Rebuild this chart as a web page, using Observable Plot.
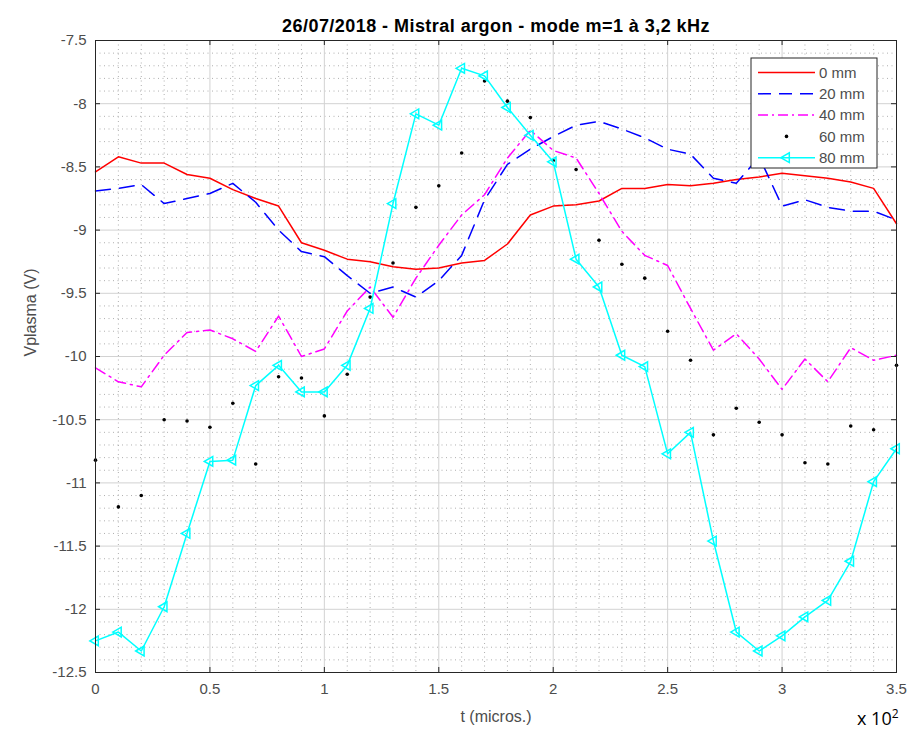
<!DOCTYPE html>
<html>
<head>
<meta charset="utf-8">
<script src="https://cdn.jsdelivr.net/npm/d3@7"></script>
<script src="https://cdn.jsdelivr.net/npm/@observablehq/plot@0.6"></script>
<style>
  body { margin: 0; background: #fff; }
  #chart { width: 917px; height: 733px; }
</style>
</head>
<body>
<div id="chart"></div>
<script>
// Time axis (units of 100 µs)
const t = [0, 0.1, 0.2, 0.3, 0.4, 0.5, 0.6, 0.7, 0.8, 0.9,
           1.0, 1.1, 1.2, 1.3, 1.4, 1.5, 1.6, 1.7, 1.8, 1.9,
           2.0, 2.1, 2.2, 2.3, 2.4, 2.5, 2.6, 2.7, 2.8, 2.9,
           3.0, 3.1, 3.2, 3.3, 3.4, 3.5];

// Plasma potential (V) at each radial position
const v0mm  = [-8.54, -8.42, -8.47, -8.47, -8.56, -8.59, -8.68, -8.75, -8.81, -9.10,
               -9.16, -9.23, -9.25, -9.29, -9.31, -9.30, -9.26, -9.24, -9.11, -8.88,
               -8.81, -8.80, -8.77, -8.67, -8.67, -8.64, -8.65, -8.63, -8.60, -8.58,
               -8.55, -8.57, -8.59, -8.62, -8.67, -8.95];
const v20mm = [-8.69, -8.67, -8.64, -8.79, -8.75, -8.71, -8.63, -8.78, -9.00, -9.17,
               -9.21, -9.36, -9.50, -9.45, -9.53, -9.40, -9.20, -8.76, -8.48, -8.36,
               -8.26, -8.17, -8.14, -8.20, -8.27, -8.36, -8.40, -8.59, -8.63, -8.42,
               -8.81, -8.76, -8.82, -8.85, -8.85, -8.92];
const v40mm = [-10.09, -10.20, -10.24, -9.99, -9.81, -9.79, -9.86, -9.96, -9.68, -10.00,
               -9.94, -9.64, -9.45, -9.69, -9.38, -9.12, -8.88, -8.72, -8.43, -8.21,
               -8.37, -8.43, -8.71, -9.01, -9.20, -9.28, -9.62, -9.95, -9.82, -10.02,
               -10.26, -10.02, -10.20, -9.93, -10.03, -9.99];
const v60mm = [-10.82, -11.19, -11.10, -10.50, -10.51, -10.56, -10.37, -10.85, -10.16, -10.17,
               -10.47, -10.14, -9.53, -9.26, -8.82, -8.65, -8.39, -7.82, -7.98, -8.11,
               -8.45, -8.52, -9.08, -9.27, -9.38, -9.80, -10.03, -10.62, -10.41, -10.52,
               -10.62, -10.84, -10.85, -10.55, -10.58, -10.07];
const v80mm = [-12.25, -12.18, -12.33, -11.98, -11.40, -10.83, -10.82, -10.23, -10.07, -10.28,
               -10.28, -10.07, -9.62, -8.79, -8.08, -8.17, -7.72, -7.78, -8.03, -8.25,
               -8.46, -9.23, -9.45, -9.99, -10.08, -10.77, -10.60, -11.46, -12.18, -12.33,
               -12.21, -12.06, -11.93, -11.62, -10.99, -10.73];

const seriesNames = ["0 mm", "20 mm", "40 mm", "60 mm", "80 mm"];

// Axis ticks
const xTicks = [0, 0.5, 1, 1.5, 2, 2.5, 3, 3.5];
const yTicks = [-7.5, -8, -8.5, -9, -9.5, -10, -10.5, -11, -11.5, -12, -12.5];
const xMinor = [0.1, 0.2, 0.3, 0.4, 0.6, 0.7, 0.8, 0.9, 1.1, 1.2, 1.3, 1.4, 1.6, 1.7, 1.8, 1.9,
                2.1, 2.2, 2.3, 2.4, 2.6, 2.7, 2.8, 2.9, 3.1, 3.2, 3.3, 3.4];
const yMinor = [-7.6, -7.7, -7.8, -7.9, -8.1, -8.2, -8.3, -8.4, -8.6, -8.7, -8.8, -8.9,
                -9.1, -9.2, -9.3, -9.4, -9.6, -9.7, -9.8, -9.9, -10.1, -10.2, -10.3, -10.4,
                -10.6, -10.7, -10.8, -10.9, -11.1, -11.2, -11.3, -11.4, -11.6, -11.7, -11.8, -11.9,
                -12.1, -12.2, -12.3, -12.4];

const titleText = "26/07/2018 - Mistral argon - mode m=1 à 3,2 kHz";
const xLabel = "t (micros.)";
const yLabel = "Vplasma (V)";

const toRows = (values) => t.map((x, i) => ({t: x, v: values[i]}));
const rows0 = toRows(v0mm), rows20 = toRows(v20mm), rows40 = toRows(v40mm),
      rows60 = toRows(v60mm), rows80 = toRows(v80mm);

const W = 917, H = 733;
const margin = {top: 40, right: 21, bottom: 61, left: 95};
const innerH = H - margin.top - margin.bottom;
const innerW = W - margin.left - margin.right;
const axisColor = "#262626";
const labelColor = "#4d4d4d";
const tickLen = 5;

const colors = {c0: "#ff0000", c20: "#0000ff", c40: "#ff00ff", c60: "#000000", c80: "#00ffff"};
const dash20 = "15,9";
const dash40 = "11,5,2,5";

const chart = Plot.plot({
  width: W,
  height: H,
  marginTop: margin.top,
  marginRight: margin.right,
  marginBottom: margin.bottom,
  marginLeft: margin.left,
  style: {fontFamily: "'Liberation Sans', Arial, sans-serif", fontSize: "15px", background: "#fff"},
  x: {domain: [0, 3.5]},
  y: {domain: [-12.5, -7.5]},
  marks: [
    // minor dotted grid
    Plot.ruleX(xMinor, {stroke: "#9a9a9a", strokeWidth: 0.8, strokeDasharray: "1,3.5"}),
    Plot.ruleY(yMinor, {stroke: "#9a9a9a", strokeWidth: 0.8, strokeDasharray: "1,3.5"}),
    // major grid
    Plot.ruleX(xTicks, {stroke: "#d2d2d2", strokeWidth: 1}),
    Plot.ruleY(yTicks, {stroke: "#d2d2d2", strokeWidth: 1}),
    // data
    Plot.line(rows0, {x: "t", y: "v", stroke: colors.c0, strokeWidth: 1.5}),
    Plot.line(rows20, {x: "t", y: "v", stroke: colors.c20, strokeWidth: 1.5, strokeDasharray: dash20}),
    Plot.line(rows40, {x: "t", y: "v", stroke: colors.c40, strokeWidth: 1.5, strokeDasharray: dash40}),
    Plot.dot(rows60, {x: "t", y: "v", r: 1.8, fill: colors.c60, stroke: "none"}),
    Plot.line(rows80, {x: "t", y: "v", stroke: colors.c80, strokeWidth: 1.5}),
    Plot.dot(rows80, {x: "t", y: "v", symbol: "triangle", rotate: -90, r: 3.6, stroke: colors.c80, strokeWidth: 1.5, fill: "none"}),
    // frame and inward ticks on all four sides
    Plot.frame({stroke: axisColor, strokeWidth: 1}),
    Plot.ruleX(xTicks, {stroke: axisColor, insetTop: innerH - tickLen}),
    Plot.ruleX(xTicks, {stroke: axisColor, insetBottom: innerH - tickLen}),
    Plot.ruleY(yTicks, {stroke: axisColor, insetRight: innerW - tickLen}),
    Plot.ruleY(yTicks, {stroke: axisColor, insetLeft: innerW - tickLen}),
    // tick labels
    Plot.axisX(xTicks, {tickSize: 0, tickPadding: 11, tickFormat: d => String(d), color: labelColor, fontSize: 15, label: null}),
    Plot.axisY(yTicks, {tickSize: 0, tickPadding: 9, tickFormat: d => String(d), color: labelColor, fontSize: 15, label: null}),
    // titles
    Plot.text([titleText], {frameAnchor: "top", dy: -21, fontSize: 18, fontWeight: "bold", fill: "#000"}),
    Plot.text([xLabel], {frameAnchor: "bottom", dy: 49, fontSize: 16, fill: labelColor}),
    Plot.text([yLabel], {frameAnchor: "left", dx: -65, rotate: -90, fontSize: 16, fill: labelColor})
  ]
});

document.getElementById("chart").appendChild(chart);

// Slightly wider tracking on the title
d3.select(chart).selectAll("text").filter(function () { return this.textContent === titleText; })
  .attr("letter-spacing", "0.45px");

// Legend box and the x10^2 exponent note, drawn into the same SVG
const svg = d3.select(chart);
const legendX = W - margin.right - 145, legendY = margin.top + 18;
const lg = svg.append("g").attr("transform", `translate(${legendX},${legendY})`)
  .attr("text-anchor", "start");
lg.append("rect").attr("width", 126).attr("height", 110)
  .attr("fill", "#fff").attr("stroke", axisColor).attr("stroke-width", 1);
const rowH = 21.3, y0 = 14.5, sx1 = 7, sx2 = 64;
const legendStyles = [
  {stroke: colors.c0, dash: null, line: true},
  {stroke: colors.c20, dash: "13,8", line: true},
  {stroke: colors.c40, dash: "10,4,2,4", line: true},
  {stroke: colors.c60, dash: null, line: false, dot: true},
  {stroke: colors.c80, dash: null, line: true, tri: true}
];
seriesNames.forEach((name, i) => {
  const s = legendStyles[i];
  const yy = y0 + i * rowH;
  if (s.line) {
    lg.append("line").attr("x1", sx1).attr("x2", sx2).attr("y1", yy).attr("y2", yy)
      .attr("stroke", s.stroke).attr("stroke-width", 1.5)
      .attr("stroke-dasharray", s.dash);
  }
  if (s.dot) {
    lg.append("circle").attr("cx", (sx1 + sx2) / 2).attr("cy", yy).attr("r", 1.8).attr("fill", s.stroke);
  }
  if (s.tri) {
    lg.append("path").attr("d", d3.symbol(d3.symbolTriangle, Math.PI * 3.6 * 3.6)())
      .attr("transform", `translate(${(sx1 + sx2) / 2},${yy}) rotate(-90)`)
      .attr("fill", "none").attr("stroke", s.stroke).attr("stroke-width", 1.5);
  }
  lg.append("text").attr("x", 68).attr("y", yy).attr("dy", "0.35em")
    .attr("font-size", 15).attr("fill", labelColor).text(name);
});

const expo = svg.append("text").attr("x", 857).attr("y", 725).attr("text-anchor", "start")
  .attr("font-family", "'Open Sans', 'Liberation Sans', sans-serif").attr("font-size", 18).attr("fill", "#000");
expo.append("tspan").text("x 10");
expo.append("tspan").attr("dy", -7).attr("font-size", 12).text("2");
</script>
</body>
</html>
